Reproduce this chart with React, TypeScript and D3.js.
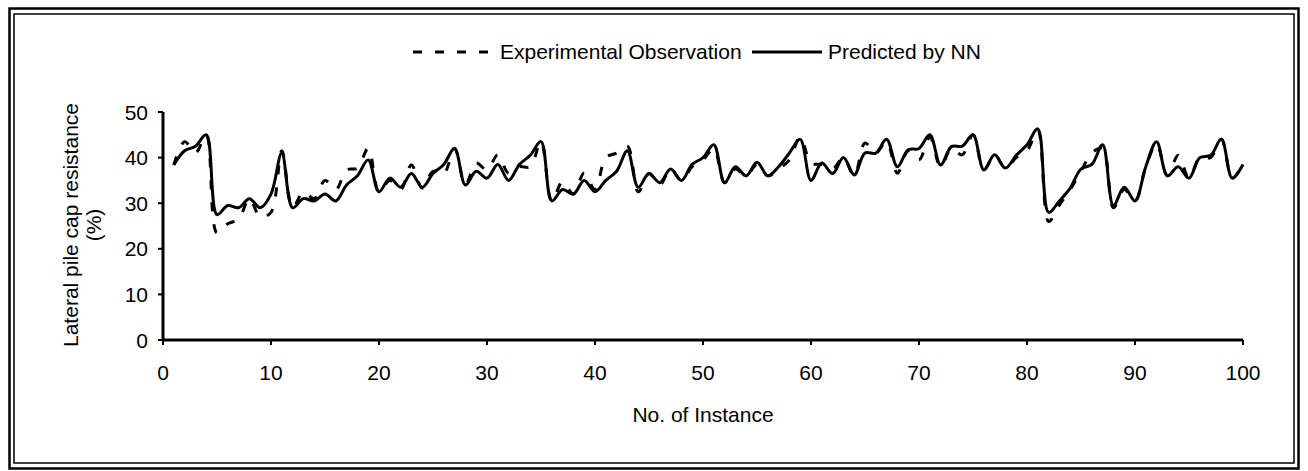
import React from "react";
import * as d3 from "d3";

// Instance numbers 1..100 and the two series.
const instances: number[] = Array.from({ length: 100 }, (_, i) => i + 1);

const experimental: number[] = [
  38.4, 43.5, 41, 45, 23.5, 25.5, 26.5, 31, 27, 28,
  41.5, 29, 32.5, 31, 35, 33, 37.3, 37.7, 42, 32.5,
  35, 33, 38.4, 33.3, 37, 36.5, 42, 34, 38.8, 37.3,
  40.6, 36.6, 38, 38, 43.5, 30.5, 34.7, 32, 36.6, 33,
  40, 41, 42.5, 32.5, 36.5, 34, 37.5, 35, 38, 39.5,
  42, 34.5, 37.5, 36, 38.5, 36, 37.5, 39.5, 44.5, 38.8,
  38.5, 37.5, 40, 36, 43.2, 41, 43.5, 36.6, 41.5, 39.5,
  44.5, 38, 42, 40.6, 45, 37.3, 40.6, 37.7, 40, 41.5,
  46, 26, 29.6, 33, 37, 41, 42, 29, 33, 30.5,
  38, 43, 36, 40.5, 35.5, 40, 40, 44, 35.5, 38.5,
];

const predicted: number[] = [
  38.4, 41.5, 42.5, 45, 27.5, 29.5, 29, 31, 29, 32,
  41, 29, 31, 30.5, 32, 30.5, 34, 36, 39.5, 32.5,
  35.5, 33.5, 36.5, 33.5, 36.5, 38.5, 42, 34, 37, 35.5,
  38.5, 35, 38.5, 40.5, 43.5, 30.5, 33, 32, 35, 32.5,
  35, 37, 41.5, 33.5, 36.5, 34.5, 37.5, 35, 38.5, 40,
  42.8, 34.5, 38, 36, 39, 36, 38, 41, 44, 35,
  38.8, 36.5, 40, 36.2, 41, 41, 44, 38, 41.7, 42,
  45, 38.4, 42.4, 42.5, 45, 37.3, 40.6, 37.7, 40.5, 42.8,
  46.3, 28, 30.5, 33.3, 37.5, 38.5, 42.8, 29.5, 33.5, 30.5,
  38, 43.5, 36, 38, 35.5, 40, 40.5, 44, 35.5, 38.5,
];

const xTicks: number[] = [0, 10, 20, 30, 40, 50, 60, 70, 80, 90, 100];
const yTicks: number[] = [0, 10, 20, 30, 40, 50];

const W = 1308;
const H = 471;
const FONT = "Liberation Sans, Arial, sans-serif";
const FS = 21;
const DASH = "9 13";

export default function App() {
  const x = d3.scaleLinear().domain([0, 100]).range([163, 1243]);
  const y = d3.scaleLinear().domain([0, 50]).range([340, 112]);

  const line = d3
    .line<number>()
    .x((_, i) => x(instances[i]))
    .y((d) => y(d))
    .curve(d3.curveCatmullRom.alpha(0.5));

  return (
    <svg
      width={W}
      height={H}
      style={{ position: "absolute", left: 0, top: 0, background: "#fff" }}
      fontFamily={FONT}
    >
      {/* double frame */}
      <rect x={9.5} y={8.5} width={1289} height={460} fill="none" stroke="#000" strokeWidth={2.5} />
      <rect x={14} y={14} width={1280} height={449} fill="none" stroke="#000" strokeWidth={1.5} />

      {/* legend */}
      <line x1={413} x2={490} y1={52} y2={52} stroke="#000" strokeWidth={3} strokeDasharray={DASH} />
      <text x={500} y={59} fontSize={FS}>Experimental Observation</text>
      <line x1={752} x2={822} y1={52} y2={52} stroke="#000" strokeWidth={3} />
      <text x={828} y={59} fontSize={FS}>Predicted by NN</text>

      {/* axes */}
      <line x1={x(0)} x2={x(0)} y1={y(50)} y2={y(0)} stroke="#000" strokeWidth={3} />
      <line x1={x(0)} x2={x(100)} y1={y(0)} y2={y(0)} stroke="#000" strokeWidth={3} />
      {yTicks.map((t) => (
        <g key={"y" + t}>
          <line x1={x(0) - 5} x2={x(0)} y1={y(t)} y2={y(t)} stroke="#000" strokeWidth={2} />
          <text x={x(0) - 15} y={y(t) + 7.5} fontSize={FS} textAnchor="end">
            {t}
          </text>
        </g>
      ))}
      {xTicks.map((t) => (
        <g key={"x" + t}>
          <line x1={x(t)} x2={x(t)} y1={y(0)} y2={y(0) + 5} stroke="#000" strokeWidth={2} />
          <text x={x(t)} y={y(0) + 40} fontSize={FS} textAnchor="middle">
            {t}
          </text>
        </g>
      ))}

      {/* axis titles */}
      <text transform="translate(78,225) rotate(-90)" fontSize={FS} textAnchor="middle">
        Lateral pile cap resistance
      </text>
      <text transform="translate(101,225) rotate(-90)" fontSize={FS} textAnchor="middle">
        (%)
      </text>
      <text x={703} y={422} fontSize={FS} textAnchor="middle">
        No. of Instance
      </text>

      {/* series */}
      <path d={line(experimental) || ""} fill="none" stroke="#000" strokeWidth={3} strokeDasharray={DASH} />
      <path d={line(predicted) || ""} fill="none" stroke="#000" strokeWidth={3} strokeLinejoin="round" />
    </svg>
  );
}
